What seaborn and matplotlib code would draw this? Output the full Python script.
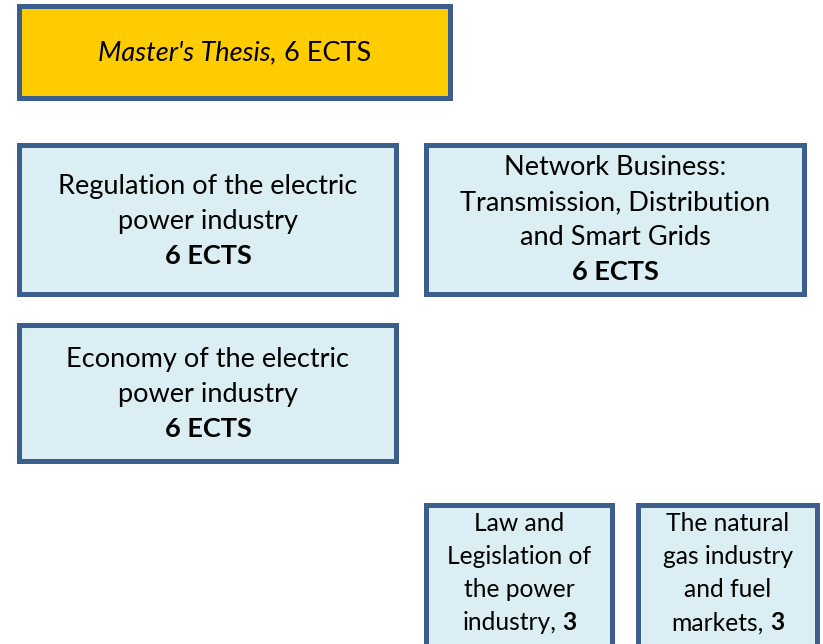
import matplotlib
matplotlib.use("Agg")
import matplotlib.pyplot as plt
from matplotlib.patches import Rectangle
import seaborn as sns

# ---------------- data ----------------
thesis_name = "Master's Thesis,"
thesis_credits = "6 ECTS"

course_lines = [
    ["Regulation of the electric", "power industry"],
    ["Network Business:", "Transmission, Distribution", "and Smart Grids"],
    ["Economy of the electric", "power industry"],
    ["Law and", "Legislation of", "the power", "industry,"],
    ["The natural", "gas industry", "and fuel", "markets,"],
]
course_credit_labels = ["6 ECTS", "6 ECTS", "6 ECTS", "3", "3"]
credit_inline = [False, False, False, True, True]

# ---------------- layout (pixel coords, y downward) ----------------
W, H = 823, 644
thesis_box = (17, 3, 453, 100)
course_boxes = [
    (17, 142, 399, 296),
    (424, 142, 807, 296),
    (17, 322, 399, 463),
    (424, 502, 615, 670),
    (636, 502, 820, 670),
]
course_text_center = [219, 218, 392, 572, 572]
line_gap = [35, 35, 35, 33, 33]
course_fs = [19.5, 19.5, 19.5, 17.7, 17.7]
THESIS_FS = 19.5

BORDER = "#3C5E8D"
LIGHT = "#DBEEF4"
GOLD = "#FFCC00"
LW_PX = 5
FONT = ["Lato", "DejaVu Sans"]

sns.set_theme(style="white")
plt.rcParams["font.family"] = FONT

fig = plt.figure(figsize=(W / 100, H / 100), dpi=100)
ax = fig.add_axes([0, 0, 1, 1])
ax.set_xlim(0, W)
ax.set_ylim(H, 0)
ax.axis("off")
fig.patch.set_facecolor("white")
renderer = fig.canvas.get_renderer()


def draw_box(b, face):
    x0, y0, x1, y1 = b
    h = LW_PX / 2
    ax.add_patch(Rectangle((x0 + h, y0 + h), x1 - x0 - LW_PX, y1 - y0 - LW_PX,
                           facecolor=face, edgecolor=BORDER,
                           linewidth=LW_PX * 72 / 100, joinstyle="miter", zorder=1))


def twidth(s, fs, weight="normal", style="normal"):
    t = ax.text(0, 0, s, fontsize=fs, fontweight=weight, fontstyle=style)
    w = t.get_window_extent(renderer).width
    t.remove()
    return w


def draw_line(cx, yc, segs, fs):
    space = twidth("a a", fs) - twidth("aa", fs)
    baseline = yc + 0.36 * fs * 100 / 72
    widths = [twidth(s, fs, wt, st) for s, wt, st in segs]
    total = sum(widths) + space * (len(segs) - 1)
    x = cx - total / 2
    for (s, wt, st), w in zip(segs, widths):
        ax.text(x, baseline, s, ha="left", va="baseline", fontsize=fs,
                fontweight=wt, fontstyle=st, color="black", zorder=3)
        x += w + space


# thesis box
draw_box(thesis_box, GOLD)
cx = (thesis_box[0] + thesis_box[2]) / 2
draw_line(cx, 51, [(thesis_name, "normal", "italic"),
                   (thesis_credits, "normal", "normal")], THESIS_FS)

# courses
for b, lines, cred, inline, cy, gap, fs in zip(course_boxes, course_lines,
                                               course_credit_labels, credit_inline,
                                               course_text_center, line_gap, course_fs):
    draw_box(b, LIGHT)
    cx = (b[0] + b[2]) / 2
    rows = [[(l, "normal", "normal")] for l in lines]
    if inline:
        rows[-1].append((cred, "bold", "normal"))
    else:
        rows.append([(cred, "bold", "normal")])
    n = len(rows)
    first = cy - gap * (n - 1) / 2
    for i, r in enumerate(rows):
        draw_line(cx, first + i * gap, r, fs)

fig.savefig("out.png", dpi=100)
